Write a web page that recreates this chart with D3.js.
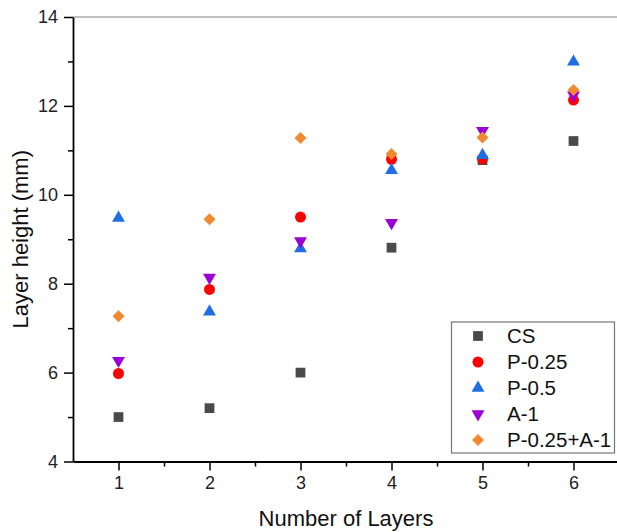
<!DOCTYPE html>
<html lang="en">
<head>
<meta charset="utf-8">
<title>Layer height vs number of layers</title>
<script src="https://cdn.jsdelivr.net/npm/d3@7"></script>
<style>
    body {
        margin: 0;
        background: #fff;
        font-family: Arial, "Liberation Sans", sans-serif;
    }
    .title {
        font-size: 22px;
        fill: #111;
    }
    .legend text {
        font-size: 20.5px;
        fill: #111;
    }
</style>
</head>
<body>
<div id="chart"></div>
<script>

// data
var layers = [1, 2, 3, 4, 5, 6];
var cs        = [5.00, 5.20, 6.00, 8.81, 10.78, 11.21];
var p025      = [5.98, 7.87, 9.50, 10.80, 10.81, 12.13];
var p05       = [9.48, 7.37, 8.79, 10.55, 10.89, 12.99];
var a1        = [6.27, 8.14, 8.96, 9.37, 11.44, 12.24];
var p025a1    = [7.27, 9.45, 11.28, 10.92, 11.29, 12.36];

var seriesNames = ["CS", "P-0.25", "P-0.5", "A-1", "P-0.25+A-1"];
var seriesValues = [cs, p025, p05, a1, p025a1];
var yTicks = [4, 6, 8, 10, 12, 14];

var colors = ["#4a4a4a", "#ff0000", "#1f6fe3", "#9a00d4", "#f08a30"];
var shapes = [
    {type: d3.symbolSquare, size: 95, rot: 0},
    {type: d3.symbolCircle, size: 95, rot: 0},
    {type: d3.symbolTriangle, size: 72, rot: 0},
    {type: d3.symbolTriangle, size: 72, rot: 180},
    {type: d3.symbolSquare, size: 72, rot: 45}
];

var width = 617, height = 532;

var svg = d3.select("#chart")
    .append("svg")
    .attr("width", width)
    .attr("height", height);

var x = d3.scaleLinear().domain([0.5, 7]).range([73, 664.5]);
var y = d3.scaleLinear().domain([4, 14]).range([461.5, 17]);

// top frame line (light gray)
svg.append("line")
    .attr("x1", x(0.5)).attr("x2", width)
    .attr("y1", y(14)).attr("y2", y(14))
    .attr("stroke", "#aaa")
    .attr("stroke-width", 1.5);

// minor ticks
svg.append("g")
    .attr("transform", "translate(0," + y(4) + ")")
    .call(d3.axisBottom(x).tickValues([1.5, 2.5, 3.5, 4.5, 5.5, 6.5]).tickSize(5).tickFormat(""))
    .call(function(g) { g.select(".domain").remove(); })
    .selectAll("line").attr("stroke-width", 1.5);

svg.append("g")
    .attr("transform", "translate(" + x(0.5) + ",0)")
    .call(d3.axisLeft(y).tickValues([5, 7, 9, 11, 13]).tickSize(5).tickFormat(""))
    .call(function(g) { g.select(".domain").remove(); })
    .selectAll("line").attr("stroke-width", 1.5);

// major axes
var xAxis = svg.append("g")
    .attr("transform", "translate(0," + y(4) + ")")
    .call(d3.axisBottom(x).tickValues(layers).tickSize(9).tickPadding(6).tickSizeOuter(0).tickFormat(d3.format("d")));
xAxis.select(".domain").attr("stroke-width", 1.8);
xAxis.selectAll(".tick line").attr("stroke-width", 1.5);
xAxis.selectAll("text").attr("font-family", "Arial, 'Liberation Sans', sans-serif").attr("font-size", 18).attr("fill", "#222");

var yAxis = svg.append("g")
    .attr("transform", "translate(" + x(0.5) + ",0)")
    .call(d3.axisLeft(y).tickValues(yTicks).tickSize(9).tickPadding(6).tickSizeOuter(0).tickFormat(d3.format("d")));
yAxis.select(".domain").attr("stroke-width", 1.8);
yAxis.selectAll(".tick line").attr("stroke-width", 1.5);
yAxis.selectAll("text").attr("font-family", "Arial, 'Liberation Sans', sans-serif").attr("font-size", 18).attr("fill", "#222");

// axis titles
svg.append("text")
    .attr("class", "title")
    .attr("x", 346)
    .attr("y", 526)
    .attr("text-anchor", "middle")
    .text("Number of Layers");

svg.append("text")
    .attr("class", "title")
    .attr("transform", "translate(28," + y(9) + ") rotate(-90)")
    .attr("text-anchor", "middle")
    .text("Layer height (mm)");

// points
seriesValues.forEach(function(vals, i) {
    var sh = shapes[i];
    svg.append("g")
        .selectAll("path")
        .data(layers)
        .enter()
        .append("path")
        .attr("d", d3.symbol().type(sh.type).size(sh.size))
        .attr("transform", function(d, j) {
            return "translate(" + x(d) + "," + y(vals[j]) + ") rotate(" + sh.rot + ")";
        })
        .attr("fill", colors[i]);
});

// legend
var legend = svg.append("g").attr("class", "legend");
legend.append("rect")
    .attr("x", 451.5).attr("y", 322)
    .attr("width", 163).attr("height", 131)
    .attr("fill", "#fff")
    .attr("stroke", "#777")
    .attr("stroke-width", 1.2);

var rows = legend.selectAll(".row")
    .data(seriesNames)
    .enter()
    .append("g")
    .attr("transform", function(d, i) { return "translate(478," + (336 + i * 26) + ")"; });

rows.append("path")
    .attr("d", function(d, i) { return d3.symbol().type(shapes[i].type).size(shapes[i].size)(); })
    .attr("transform", function(d, i) { return "rotate(" + shapes[i].rot + ")"; })
    .attr("fill", function(d, i) { return colors[i]; });

rows.append("text")
    .attr("x", 29)
    .attr("dy", "0.36em")
    .text(function(d) { return d; });

</script>
</body>
</html>
